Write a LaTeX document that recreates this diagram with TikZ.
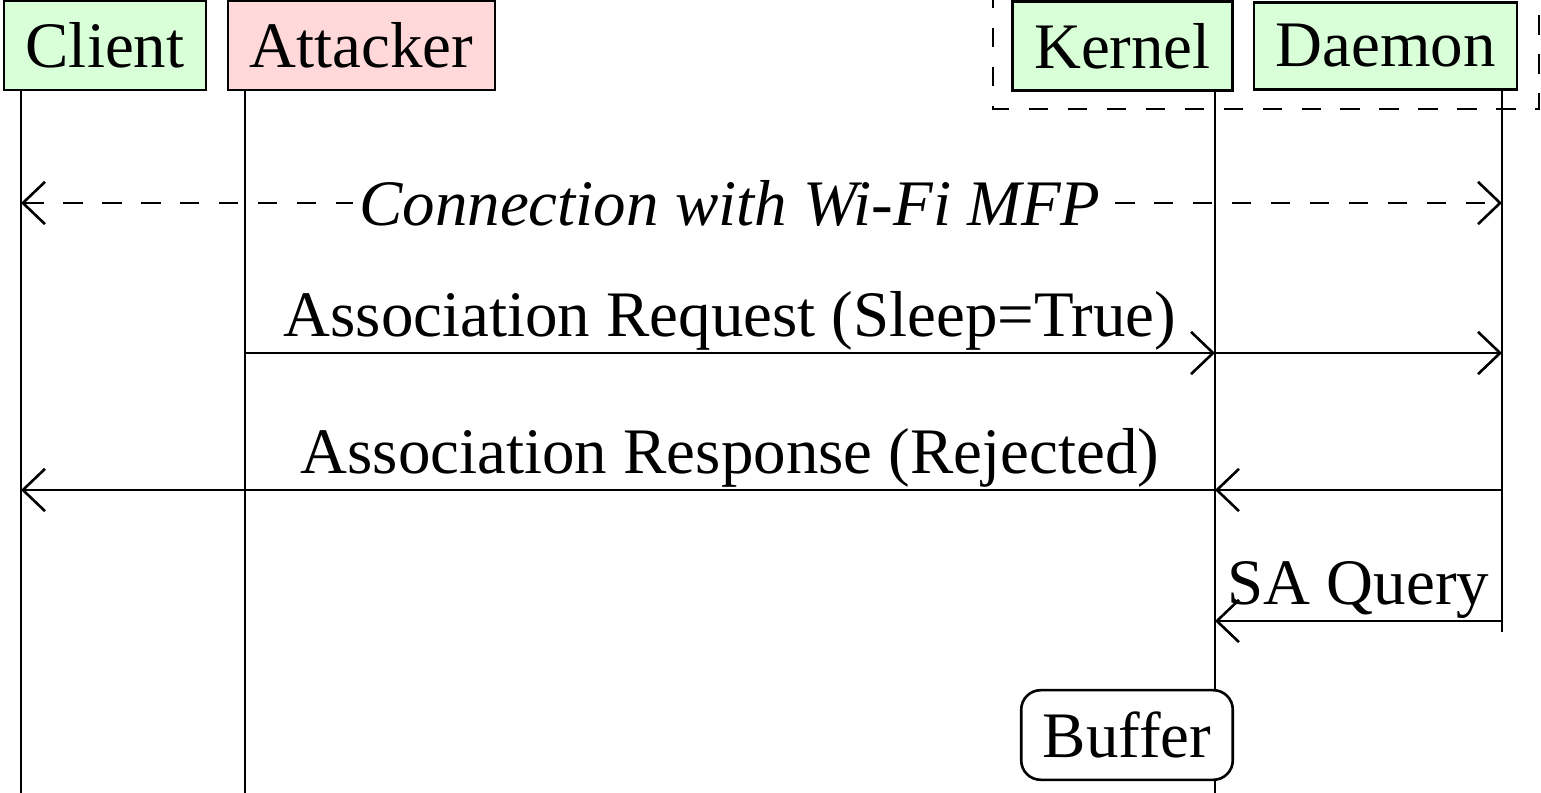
\documentclass[tikz,border=0pt]{standalone}
\usepackage{fontspec}
\setmainfont{Liberation Serif}
\usetikzlibrary{arrows.meta,calc}

\begin{document}
\begin{tikzpicture}[x=0.154pt, y=-0.154pt,
    >={Straight Barb[length=3.4pt,width=6.5pt]},
    actor/.style={draw, fill=green!15},
    msglabel/.style={anchor=base, yshift=2.5pt}]
    \useasboundingbox (0,0) rectangle (1541,793);
    \clip (0,0) rectangle (1541,793);
    \draw[dashed] (993,-50) rectangle (1539,109);
    \node[actor] (client) at (105,45.5) {Client};
    \node[actor, fill=red!15] (attacker) at (361.5,45.5) {Attacker};
    \node[actor] (kernel) at (1122.5,46) {Kernel};
    \node[actor] (daemon) at (1385.5,46) {Daemon};
    % lifelines
    \coordinate (cl) at (21,800);
    \coordinate (al) at (245,800);
    \coordinate (kl) at (1215,800);
    \coordinate (dl) at (1502,632);
    \draw (client.south -| cl) -- (cl);
    \draw (attacker.south -| al) -- (al);
    \draw (kernel.south -| kl) -- (kl);
    \draw (daemon.south -| dl) -- (dl);
    % message rows
    \coordinate (r1) at (0,203);
    \coordinate (r2) at (0,353);
    \coordinate (r3) at (0,490);
    \coordinate (r4) at (0,621);
    \draw[<->, dashed] (cl |- r1) -- (dl |- r1);
    \node[fill=white, inner sep=1pt] (conn) at ($(al |- r1)!.5!(kl |- r1)$) {\textit{Connection with Wi-Fi MFP}};
    \draw[->] (al |- r2) -- node[msglabel] (req) {Association Request (Sleep=True)} (kl |- r2);
    \draw[->] (kl |- r2) -- (dl |- r2);
    \draw[->] (dl |- r3) -- (kl |- r3);
    \draw[->] (kl |- r3) -- (cl |- r3);
    \node[msglabel] (resp) at ($(al |- r3)!.5!(kl |- r3)$) {Association Response (Rejected)};
    \draw[->] (dl |- r4) -- node[msglabel] (query) {SA Query} (kl |- r4);
    \node[draw, rounded corners=3pt, fill=white] (buffer) at (1127,735) {Buffer};
\end{tikzpicture}
\end{document}
